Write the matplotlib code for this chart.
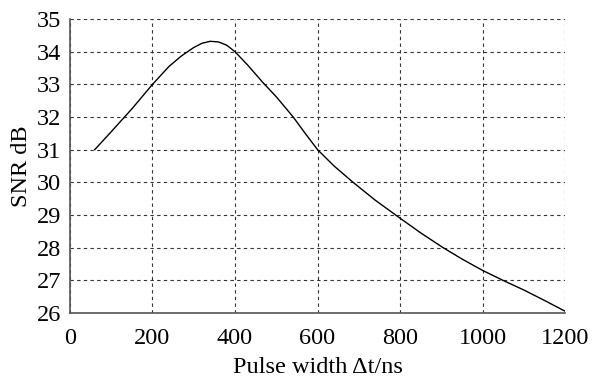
import numpy as np
import matplotlib
matplotlib.use("Agg")
import matplotlib.pyplot as plt

plt.rcParams['font.family'] = ['Liberation Serif', 'DejaVu Serif']
plt.rcParams['font.size'] = 17.5

# pulse width (ns) and SNR (dB)
pulse_width = [60, 100, 150, 200, 240, 270, 300, 320, 340, 360, 380, 400,
               430, 468, 500, 541, 570, 600, 640, 686, 740, 800, 850, 904,
               950, 1000, 1052, 1100, 1150, 1200]
snr_db = [31.0, 31.55, 32.25, 33.0, 33.55, 33.87, 34.13, 34.26, 34.32, 34.3,
          34.2, 34.0, 33.6, 33.05, 32.62, 32.0, 31.5, 31.0, 30.5, 30.0,
          29.45, 28.9, 28.45, 28.0, 27.65, 27.3, 26.98, 26.7, 26.38, 26.05]

xticks = [0, 200, 400, 600, 800, 1000, 1200]
yticks = [26, 27, 28, 29, 30, 31, 32, 33, 34, 35]

fig = plt.figure(figsize=(5.93, 3.82), dpi=100)
ax = fig.add_axes([0.118, 0.181, 0.835, 0.769])

ax.plot(pulse_width, snr_db, color='black', linewidth=1.0)

ax.set_xlim(0, 1200)
ax.set_ylim(26, 35)
ax.set_xticks(xticks)
ax.set_yticks(yticks)
ax.grid(True, linestyle=(0, (3, 3)), color='#333333', linewidth=0.8)
ax.tick_params(axis='x', direction='in', length=0, pad=11)
ax.tick_params(axis='y', direction='in', length=0, pad=6.5)

for s in ['top', 'right']:
    ax.spines[s].set_visible(False)
for s in ['left', 'bottom']:
    ax.spines[s].set_color('#555555')
    ax.spines[s].set_linewidth(1.2)

ax.set_xlabel('Pulse width \u0394t/ns', labelpad=5.5)
ax.set_ylabel('SNR dB', labelpad=3)

fig.savefig('out.png', dpi=100)
